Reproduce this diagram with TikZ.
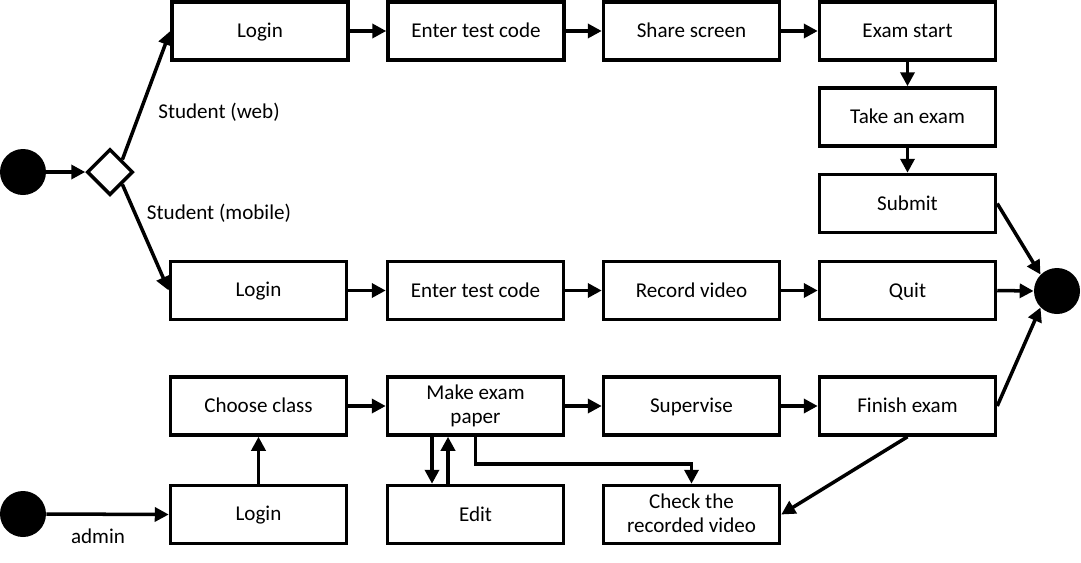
\documentclass[tikz,border=0pt]{standalone}
\usepackage{fontspec}
\setmainfont{Carlito}
\usepackage{tikz}
\usetikzlibrary{shapes.geometric,arrows.meta}

\tikzset{
box/.style = {draw,line width = 2pt,minimum width = 3.52cm,minimum height = 1.16cm,align = center,font = \fontsize{12}{13.5}\selectfont,execute at begin node = \rule[-1.8pt]{0pt}{11.2pt}},
dot/.style = {circle,fill = black,minimum size = 0.92cm,inner sep = 0pt},
flow/.style = {->,line width = 2pt},
lbl/.style = {font = \fontsize{12}{13.5}\selectfont}
}

\begin{document}
\begin{tikzpicture}[x = 0.02cm,y = -0.02cm,>={Triangle[length = 2.8mm,width = 2.8mm]}]
\useasboundingbox (0,0) rectangle (1081,562);

\node[dot] at(23,172) (st) {};
\node[draw,line width = 2pt,diamond,minimum size = 0.92cm,inner sep = 0pt,fill = white] at(110,172) (dia) {};
\node[dot] at(1057,291) (fin) {};
\node[dot] at(23,514) (st2) {};


\node[box] at(260,31) (login1) {Login};
\node[box] at(476,31) (code1) {Enter test code};
\node[box] at(691.5,31) (share) {Share screen};
\node[box] at(907.5,31) (estart) {Exam start};
\node[box] at(907.5,117) (take) {Take an exam};
\node[box] at(907.5,203.5) (submit) {Submit};


\node[box] at(258.5,290.5) (login2) {Login};
\node[box] at(475.5,290.5) (code2) {Enter test code};
\node[box] at(691.5,290.5) (record) {Record video};
\node[box] at(907.5,290.5) (quit) {Quit};


\node[box] at(258.5,406) (choose) {Choose class};
\node[box] at(475.5,406) (paper) {Make exam\\paper};
\node[box] at(691.5,406) (superv) {Supervise};
\node[box] at(907.5,406) (finish) {Finish exam};


\node[box] at(258.5,514.5) (login3) {Login};
\node[box] at(475.5,514.5) (edit) {Edit};
\node[box] at(691.5,514.5) (check) {Check the\\recorded video};


\draw [flow] (st.east) -- (dia.west);
\draw [flow] (dia.north east) -- (login1.west);
\draw [flow] (dia.south east) -- (login2.west);


\draw [flow] (login1.east) -- (code1.west);
\draw [flow] (code1.east) -- (share.west);
\draw [flow] (share.east) -- (estart.west);
\draw [flow] (estart.south) -- (take.north);
\draw [flow] (take.south) -- (submit.north);
\draw [flow] (submit.east) -- (fin.north west);


\draw [flow] (login2.east) -- (code2.west);
\draw [flow] (code2.east) -- (record.west);
\draw [flow] (record.east) -- (quit.west);
\draw [flow] (quit.east) -- (fin.west);


\draw [flow] (st2.east) -- (login3.west);
\draw [flow] (login3.north) -- (choose.south);
\draw [flow] (choose.east) -- (paper.west);
\draw [flow] (paper.east) -- (superv.west);
\draw [flow] (superv.east) -- (finish.west);
\draw [flow] (finish.east) -- (fin.south west);
\draw [flow] (finish.south) -- (check.east);


\draw [flow] ([xshift = -0.87cm]paper.south) -- ([xshift = -0.87cm]edit.north);
\draw [flow] ([xshift = -0.55cm]edit.north) -- ([xshift = -0.55cm]paper.south);
\draw [flow] (paper.south) -- ++(0,27) -| (check.north);


\node[lbl] at(219,112) (web) {Student (web)};
\node[lbl] at(219,213) (mob) {Student (mobile)};
\node[lbl] at(98,536) (adm) {admin};
\end{tikzpicture}
\end{document}
